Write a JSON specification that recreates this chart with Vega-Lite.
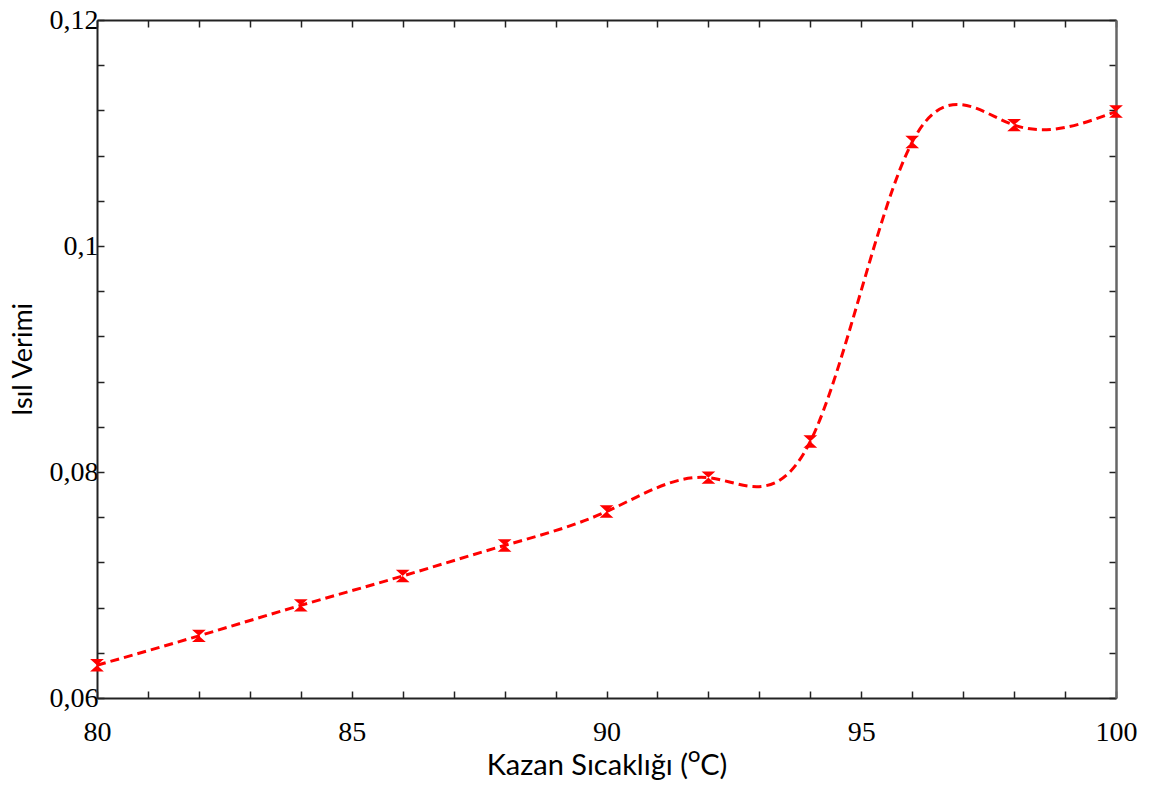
{
  "$schema": "https://vega.github.io/schema/vega-lite/v6.json",
  "autosize": "none",
  "width": 1019,
  "height": 678,
  "padding": {"left": 97, "top": 20, "right": 38, "bottom": 91},
  "background": "white",
  "config": {
    "view": {"stroke": null},
    "axis": {"grid": false, "domainColor": "#222", "domainWidth": 2, "tickColor": "#222", "tickWidth": 1.5, "tickSize": -7,
      "labelFont": "Liberation Serif", "labelFontSize": 28, "labelColor": "#000",
      "titleFont": "Lato", "titleFontSize": 29, "titleFontWeight": "normal", "titleColor": "#000"}
  },
  "data": {"values": [
    {"temp": 80, "eff": 0.0629},
    {"temp": 82, "eff": 0.0655},
    {"temp": 84, "eff": 0.0682},
    {"temp": 86, "eff": 0.0708},
    {"temp": 88, "eff": 0.0735},
    {"temp": 90, "eff": 0.0765},
    {"temp": 92, "eff": 0.0795},
    {"temp": 94, "eff": 0.0827},
    {"temp": 96, "eff": 0.1092},
    {"temp": 98, "eff": 0.1107},
    {"temp": 100, "eff": 0.1119}
  ]},
  "layer": [
    {
      "mark": {"type": "line", "interpolate": "natural", "color": "#ff0000", "strokeWidth": 3, "strokeDash": [9, 5]},
      "encoding": {
        "x": {"field": "temp", "type": "quantitative", "scale": {"domain": [80, 100], "nice": false, "zero": false},
          "axis": {"orient": "bottom", "title": "Kazan Sıcaklığı (ᴼC)", "values": [80,81,82,83,84,85,86,87,88,89,90,91,92,93,94,95,96,97,98,99,100],
            "labelExpr": "datum.value % 5 == 0 ? format(datum.value, 'd') : ''", "labelPadding": 27, "titlePadding": 5, "labelFlush": false, "labelOverlap": false}},
        "y": {"field": "eff", "type": "quantitative", "scale": {"domain": [0.06, 0.12], "nice": false, "zero": false},
          "axis": {"orient": "left", "title": "Isıl Verimi", "values": [0.06,0.064,0.068,0.072,0.076,0.08,0.084,0.088,0.092,0.096,0.1,0.104,0.108,0.112,0.116,0.12],
            "labelExpr": "(abs(datum.value - 0.06) < 1e-6 || abs(datum.value - 0.08) < 1e-6 || abs(datum.value - 0.1) < 1e-6 || abs(datum.value - 0.12) < 1e-6) ? replace(format(datum.value, '.2~f'), '.', ',') : ''",
            "labelPadding": 6, "titlePadding": 12, "titleFontSize": 27, "labelFlush": false, "labelOverlap": false}}
      }
    },
    {
      "mark": {"type": "point", "shape": "M-1,-0.9L1,-0.9L-1,0.9L1,0.9Z", "filled": true, "color": "#ff0000", "size": 190, "opacity": 1},
      "encoding": {
        "x": {"field": "temp", "type": "quantitative",
          "axis": {"orient": "top", "title": null, "labels": false, "domainColor": "#222", "values": [80,81,82,83,84,85,86,87,88,89,90,91,92,93,94,95,96,97,98,99,100]}},
        "y": {"field": "eff", "type": "quantitative",
          "axis": {"orient": "right", "title": null, "labels": false, "domainColor": "#666", "domainWidth": 2.5, "values": [0.06,0.064,0.068,0.072,0.076,0.08,0.084,0.088,0.092,0.096,0.1,0.104,0.108,0.112,0.116,0.12]}}
      }
    }
  ],
  "resolve": {"axis": {"x": "independent", "y": "independent"}}
}
